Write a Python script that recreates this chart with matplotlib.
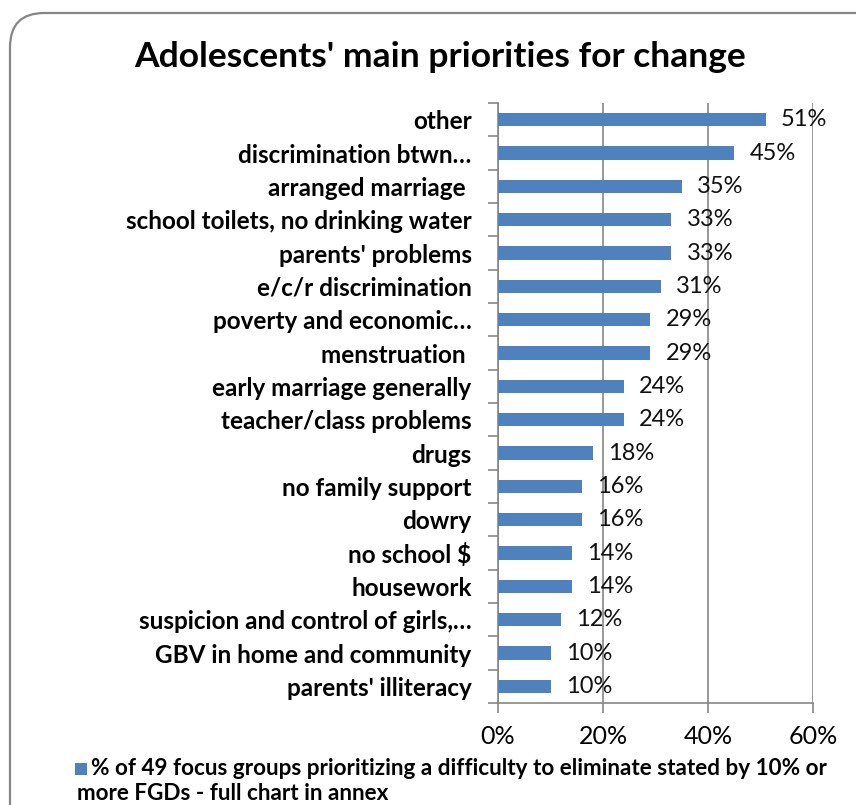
import matplotlib.pyplot as plt
from matplotlib.patches import FancyBboxPatch, Rectangle
from matplotlib.ticker import PercentFormatter

# Share of the 49 focus groups naming each difficulty (top to bottom)
categories = [
    "other", "discrimination btwn\u2026", "arranged marriage ",
    "school toilets, no drinking water", "parents' problems",
    "e/c/r discrimination", "poverty and economic\u2026", "menstruation ",
    "early marriage generally", "teacher/class problems", "drugs",
    "no family support", "dowry", "no school $", "housework",
    "suspicion and control of girls,\u2026", "GBV in home and community",
    "parents' illiteracy",
]
values = [0.51, 0.45, 0.35, 0.33, 0.33, 0.31, 0.29, 0.29, 0.24, 0.24,
          0.18, 0.16, 0.16, 0.14, 0.14, 0.12, 0.10, 0.10]
value_labels = ["51%", "45%", "35%", "33%", "33%", "31%", "29%", "29%", "24%",
                "24%", "18%", "16%", "16%", "14%", "14%", "12%", "10%", "10%"]
xticks = [0, 0.2, 0.4, 0.6]

BAR = "#4F81BD"
GRID = "#868686"
plt.rcParams['font.family'] = ['Lato', 'DejaVu Sans']

W, H = 856, 805
fig = plt.figure(figsize=(W / 100, H / 100), dpi=100)

# rounded chart-area frame
frame = FancyBboxPatch((10 / W, -0.2), 1.2, 1 - 13 / H + 0.2,
                       boxstyle="round,pad=0,rounding_size=0.04",
                       transform=fig.transFigure, fc="none", ec=GRID, lw=1.6,
                       mutation_aspect=W / H)
fig.patches.append(frame)

ax = fig.add_axes([498 / W, 1 - 703 / H, (813 - 498) / W, (703 - 103) / H])
n = len(categories)
ypos = list(range(n))[::-1]
ax.barh(ypos, values, height=0.4, color=BAR, zorder=3)
for y, v, lab in zip(ypos, values, value_labels):
    ax.annotate(lab, (v, y), xytext=(11, 0), textcoords="offset points",
                va="center", ha="left", fontsize=17, color="#111111", zorder=4)

ax.set_xlim(0, 0.6)
ax.set_ylim(-0.5, n - 0.5)
ax.set_xticks(xticks)
ax.xaxis.set_major_formatter(PercentFormatter(1.0, decimals=0))
ax.set_yticks(ypos)
ax.set_yticklabels(categories, fontsize=17.5, fontweight="bold")
ax.set_yticks([i - 0.5 for i in range(n + 1)], minor=True)
ax.tick_params(axis="y", which="major", length=0, pad=19)
ax.tick_params(axis="y", which="minor", length=7, color=GRID, width=1.2)
ax.tick_params(axis="x", length=7, color=GRID, width=1.2, labelsize=18, pad=9)
ax.grid(axis="x", color=GRID, lw=1.2, zorder=0)
for s in ["top", "right"]:
    ax.spines[s].set_visible(False)
for s in ["left", "bottom"]:
    ax.spines[s].set_color(GRID)
    ax.spines[s].set_linewidth(1.2)

fig.text(440 / W, 1 - 57 / H, "Adolescents' main priorities for change",
         ha="center", va="center", fontsize=25.5, fontweight="bold")

# legend entry
fig.patches.append(Rectangle((75 / W, 1 - 775 / H), 12 / W, 12 / H,
                             transform=fig.transFigure, fc=BAR, ec="none"))
fig.text(91 / W, 1 - 768 / H,
         "% of 49 focus groups prioritizing a difficulty to eliminate stated by 10% or",
         ha="left", va="center", fontsize=16.2, fontweight="bold")
fig.text(77 / W, 1 - 793 / H, "more FGDs - full chart in annex",
         ha="left", va="center", fontsize=16.2, fontweight="bold")

fig.savefig("out.png", dpi=100)
